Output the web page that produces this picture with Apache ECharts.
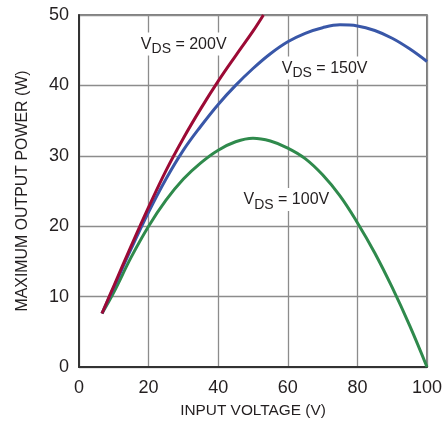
<!DOCTYPE html>
<html>
<head>
<meta charset="utf-8">
<script src="https://cdn.jsdelivr.net/npm/echarts@6/dist/echarts.min.js"></script>
<style>
  html, body { margin: 0; padding: 0; background: #fff; }
  #chart { width: 445px; height: 423px; }
</style>
</head>
<body>
<div id="chart"></div>
<script>
// ---- data ----
const xTicks = [0, 20, 40, 60, 80, 100];
const yTicks = [0, 10, 20, 30, 40, 50];

const vds200X = [6.6, 10, 15, 20, 25, 30, 35, 40, 45, 50, 53.0];
const vds200Y = [7.6, 11.5, 17.2, 22.7, 27.9, 32.5, 36.7, 40.6, 44.2, 47.7, 50];

const vds150X = [6.6, 10, 15, 20, 25, 30, 35, 40, 45, 50, 55, 60, 65, 70, 75, 80, 85, 90, 95, 100];
const vds150Y = [7.6, 11.3, 16.8, 22.0, 26.7, 30.8, 34.2, 37.3, 40.0, 42.4, 44.5, 46.2, 47.4, 48.2, 48.6, 48.45, 47.8, 46.7, 45.2, 43.4];

const vds100X = [6.6, 10, 15, 20, 25, 30, 35, 40, 45, 50, 55, 60, 65, 70, 75, 80, 85, 90, 95, 100];
const vds100Y = [7.6, 10.6, 15.6, 20.0, 23.7, 26.7, 29.0, 30.8, 32.0, 32.5, 32.1, 31.1, 29.6, 27.3, 24.3, 20.5, 16.2, 11.3, 5.9, 0];

const curveNames = ['VDS = 200V', 'VDS = 150V', 'VDS = 100V'];
const labelTexts = ['200V', '150V', '100V'];

function pairs(xs, ys) { return xs.map((x, i) => [x, ys[i]]); }

const chart = echarts.init(document.getElementById('chart'), null, { renderer: 'canvas' });

const tickFont = '"Liberation Sans", Arial, sans-serif';
const textColor = '#231f20';

const option = {
  animation: false,
  backgroundColor: '#ffffff',
  grid: { left: 79, right: 14, top: 15, bottom: 56, show: true, borderColor: '#555', borderWidth: 1.5 },
  xAxis: {
    type: 'value', min: xTicks[0], max: xTicks[xTicks.length - 1], interval: 20,
    name: 'INPUT VOLTAGE (V)', nameLocation: 'middle', nameGap: 36,
    nameTextStyle: { fontFamily: tickFont, fontSize: 15.4, color: textColor },
    axisLine: { lineStyle: { color: '#333', width: 2 } },
    axisTick: { show: false },
    axisLabel: { fontFamily: tickFont, fontSize: 18, color: textColor, margin: 12 },
    splitLine: { lineStyle: { color: '#8c8c8c', width: 1.3 } }
  },
  yAxis: {
    type: 'value', min: yTicks[0], max: yTicks[yTicks.length - 1], interval: 10,
    name: 'MAXIMUM OUTPUT POWER (W)', nameLocation: 'middle', nameGap: 48,
    nameTextStyle: { fontFamily: tickFont, fontSize: 15.9, color: textColor },
    axisLine: { lineStyle: { color: '#333', width: 2 } },
    axisTick: { show: false },
    axisLabel: { fontFamily: tickFont, fontSize: 18, color: textColor, margin: 10 },
    splitLine: { lineStyle: { color: '#8c8c8c', width: 1.3 } }
  },
  series: [
    { name: curveNames[2], type: 'line', smooth: 0.4, showSymbol: false, z: 3,
      data: pairs(vds100X, vds100Y), lineStyle: { color: '#2f8a4c', width: 3 } },
    { name: curveNames[1], type: 'line', smooth: 0.4, showSymbol: false, z: 4,
      data: pairs(vds150X, vds150Y), lineStyle: { color: '#3957a8', width: 3 } },
    { name: curveNames[0], type: 'line', smooth: 0.4, showSymbol: false, z: 5,
      data: pairs(vds200X, vds200Y), lineStyle: { color: '#9c0a35', width: 3 } }
  ]
};
chart.setOption(option);

// annotation anchors (left edge, middle of the "V") in data coordinates
const anchors = [[17.2, 46.1], [57.7, 42.7], [46.7, 24.0]];
const graphics = anchors.map((a, i) => {
  const p = chart.convertToPixel({ gridIndex: 0 }, a);
  return {
    type: 'text', x: p[0], y: p[1] + 1.5, z: 1,
    style: {
      text: '{v|V}{s|DS}{v| = ' + labelTexts[i] + '}',
      verticalAlign: 'middle', align: 'left',
      backgroundColor: '#ffffff', padding: [4, 2, 3, 2],
      rich: {
        v: { fontFamily: tickFont, fontSize: 16, lineHeight: 16, verticalAlign: 'top', fill: textColor },
        s: { fontFamily: tickFont, fontSize: 14, lineHeight: 14, padding: [6, 0, 0, 0], verticalAlign: 'top', fill: textColor }
      }
    }
  };
});
chart.setOption({ graphic: graphics });
</script>
</body>
</html>
